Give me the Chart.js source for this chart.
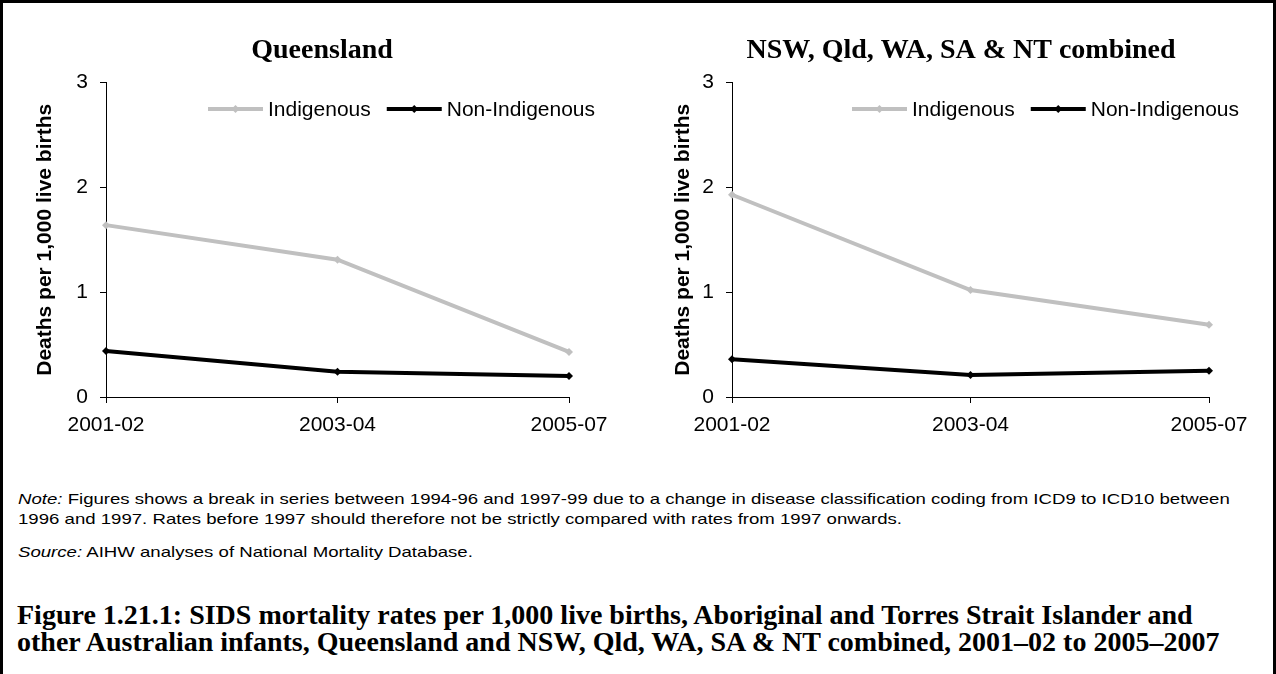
<!DOCTYPE html>
<html>
<head>
<meta charset="utf-8">
<script src="https://cdn.jsdelivr.net/npm/chart.js@4.4.0/dist/chart.umd.min.js"></script>
<style>
body { margin: 0; width: 1276px; height: 674px; background: #fff; position: relative; overflow: hidden; font-family: 'Liberation Sans', Arial, sans-serif; color: #000; }
canvas { position: absolute; top: 0; }
#frame { position: absolute; left: 0; top: 0; width: 1276px; height: 674px; border-left: 3px solid #000; border-top: 3px solid #000; border-right: 3px solid #000; box-sizing: border-box; pointer-events: none; }
.note { position: absolute; left: 18px; font-size: 15px; line-height: 20px; white-space: nowrap; transform: scaleX(1.24); transform-origin: left top; }
.caption { position: absolute; left: 17px; top: 601px; font: bold 28px 'Liberation Serif', serif; line-height: 27px; white-space: nowrap; }
</style>
</head>
<body>
<canvas id="qld" width="640" height="450" style="left:0"></canvas>
<canvas id="comb" width="636" height="450" style="left:640px"></canvas>
<div class="note" style="top:489px"><i>Note:</i> Figures shows a break in series between 1994-96 and 1997-99 due to a change in disease classification coding from ICD9 to ICD10 between<br>1996 and 1997. Rates before 1997 should therefore not be strictly compared with rates from 1997 onwards.</div>
<div class="note" style="top:542px"><i>Source:</i> AIHW analyses of National Mortality Database.</div>
<div class="caption">Figure 1.21.1: SIDS mortality rates per 1,000 live births, Aboriginal and Torres Strait Islander and<br>other Australian infants, Queensland and NSW, Qld, WA, SA &amp; NT combined, 2001–02 to 2005–2007</div>
<div id="frame"></div>
<script>
const periods = ['2001-02', '2003-04', '2005-07'];
const qldIndigenous = [1.64, 1.31, 0.43];
const qldNonIndigenous = [0.44, 0.24, 0.20];
const combinedIndigenous = [1.93, 1.02, 0.69];
const combinedNonIndigenous = [0.36, 0.21, 0.25];
const seriesNames = ['Indigenous', 'Non-Indigenous'];
const seriesColours = ['#c0c0c0', '#000000'];
const yTitle = 'Deaths per 1,000 live births';

Chart.defaults.font.family = "'Liberation Sans', Arial, sans-serif";
Chart.defaults.color = '#000';

// legend sits inside the plot: short line with a diamond, then the label
const lineLegend = {
    id: 'lineLegend',
    afterDraw(chart, args, opts) {
        const ctx = chart.ctx;
        let x = chart.chartArea.left + opts.x;
        const y = opts.y;
        ctx.save();
        ctx.font = '21px ' + Chart.defaults.font.family;
        ctx.textBaseline = 'middle';
        chart.data.datasets.forEach((ds) => {
            ctx.strokeStyle = ds.borderColor;
            ctx.lineWidth = ds.borderWidth;
            ctx.beginPath();
            ctx.moveTo(x, y);
            ctx.lineTo(x + 55, y);
            ctx.stroke();
            let cx = x + 27.5;
            ctx.fillStyle = ds.borderColor;
            ctx.beginPath();
            ctx.moveTo(cx, y - 4);
            ctx.lineTo(cx + 4, y);
            ctx.lineTo(cx, y + 4);
            ctx.lineTo(cx - 4, y);
            ctx.closePath();
            ctx.fill();
            ctx.fillStyle = '#000';
            ctx.fillText(ds.label, x + 60, y + 1);
            x += 60 + ctx.measureText(ds.label).width + 16;
        });
        ctx.restore();
    }
};

function makeChart(id, title, indigenous, nonIndigenous, L) {
    let config = {
        type: 'line',
        data: {
            labels: periods,
            datasets: [{
                label: seriesNames[0],
                data: indigenous,
                borderColor: seriesColours[0],
                backgroundColor: seriesColours[0],
                borderWidth: 4,
                pointStyle: 'rectRot',
                pointRadius: 4,
                pointBorderWidth: 0
            }, {
                label: seriesNames[1],
                data: nonIndigenous,
                borderColor: seriesColours[1],
                backgroundColor: seriesColours[1],
                borderWidth: 4,
                pointStyle: 'rectRot',
                pointRadius: 4,
                pointBorderWidth: 0
            }]
        },
        options: {
            responsive: false,
            animation: false,
            layout: { padding: { left: L.padLeft, right: L.padRight, top: 0, bottom: 0 } },
            plugins: {
                legend: { display: false },
                tooltip: { enabled: false },
                title: {
                    display: true,
                    text: title,
                    color: '#000',
                    font: { family: "'Liberation Serif', serif", size: 28, weight: 'bold' },
                    padding: { top: 34, bottom: 15 }
                },
                lineLegend: { x: L.legendX, y: 109 }
            },
            scales: {
                x: {
                    grid: { drawOnChartArea: false, color: '#000', tickLength: 6 },
                    border: { color: '#000' },
                    ticks: { font: { size: 21 }, padding: 10, maxRotation: 0 },
                    afterFit(s) {
                        s.height = 53;
                        s.paddingRight = L.xPadRight;
                    }
                },
                y: {
                    min: 0,
                    max: 3,
                    grid: { drawOnChartArea: false, color: '#000', tickLength: 6 },
                    border: { color: '#000' },
                    ticks: { stepSize: 1, font: { size: 21 }, padding: 12 },
                    title: { display: true, text: yTitle, font: { size: 21, weight: 'bold' }, padding: 0 },
                    afterFit(s) {
                        s.width = L.yWidth;
                    }
                }
            }
        },
        plugins: [lineLegend]
    };
    return new Chart(document.getElementById(id).getContext('2d'), config);
}

makeChart('qld', 'Queensland', qldIndigenous, qldNonIndigenous,
    { padLeft: 33, yWidth: 73, padRight: 29, xPadRight: 71, legendX: 102 });
makeChart('comb', 'NSW, Qld, WA, SA & NT combined', combinedIndigenous, combinedNonIndigenous,
    { padLeft: 31, yWidth: 61, padRight: 25, xPadRight: 67, legendX: 120 });
</script>
</body>
</html>
